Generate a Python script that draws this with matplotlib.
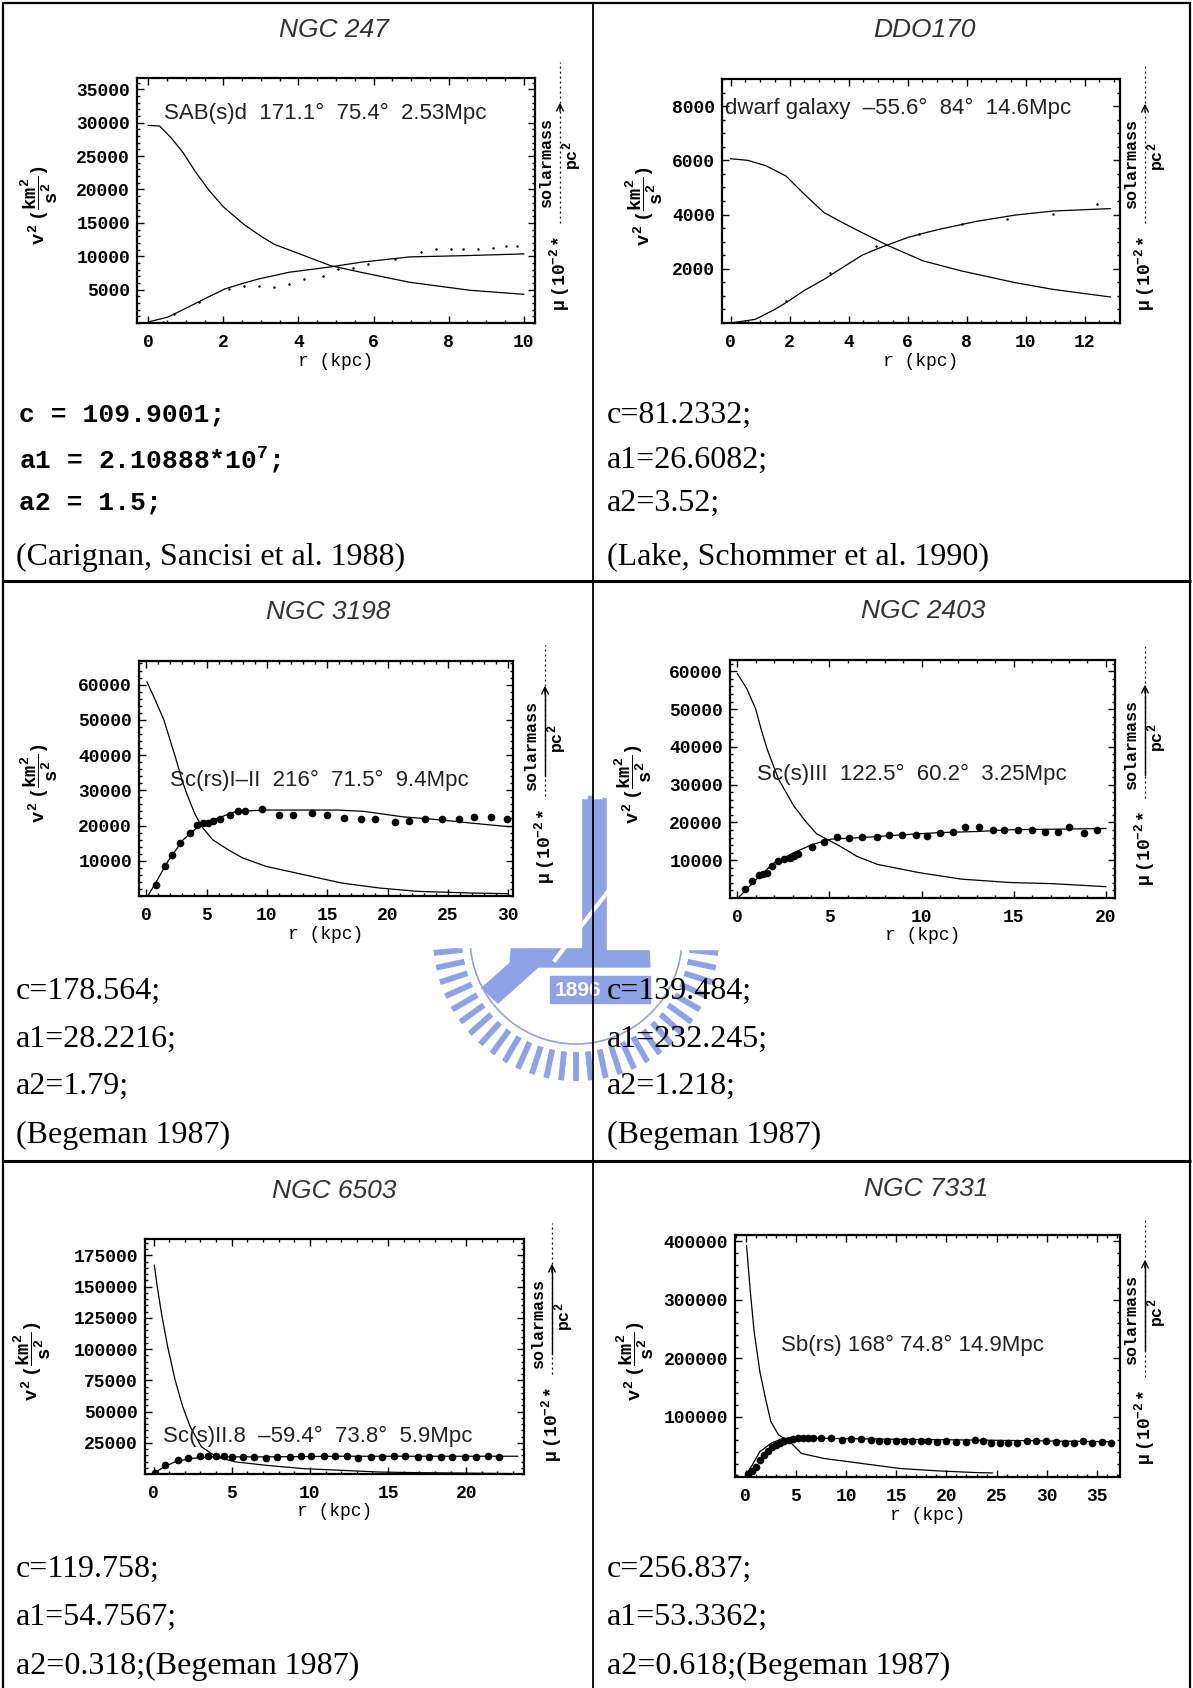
import numpy as np
import matplotlib
matplotlib.use("Agg")
import matplotlib.pyplot as plt
from matplotlib.patches import Circle, Polygon, Rectangle


W, H = 1193, 1688

plt.rcParams["font.family"] = ["Liberation Mono", "DejaVu Sans"]
plt.rcParams["font.weight"] = "bold"
plt.rcParams["mathtext.fontset"] = "custom"
plt.rcParams["mathtext.rm"] = "Liberation Mono:bold"
plt.rcParams["mathtext.it"] = "Liberation Mono:bold"
plt.rcParams["mathtext.bf"] = "Liberation Mono:bold"


# ---- NGC 247 ----
n247_mu_r = [0, 0.3, 0.6, 0.93, 1.25, 1.6, 2.0, 2.54, 3.0, 3.35, 4.15, 4.85, 5.66, 6.96, 8.57, 10]
n247_mu_v = [29600, 29500, 27800, 25500, 22700, 20000, 17400, 14800, 13000, 11800, 10100,
             8600, 7600, 6100, 4900, 4300]
n247_fit_r = [0, 0.53, 1.14, 1.6, 2.04, 2.5, 2.94, 3.75, 4.85, 5.66, 6.96, 8.5, 10]
n247_fit_v = [150, 900, 2600, 3900, 5100, 5900, 6600, 7600, 8400, 9100, 9900, 10100, 10350]
n247_obs_r = [0.1, 0.4, 0.68, 1.34, 2.15, 2.54, 2.94, 3.35, 3.75, 4.15, 4.65, 5.05,
              5.46, 5.86, 6.56, 7.26, 7.67, 8.07, 8.37, 8.77, 9.18, 9.53, 9.83]
n247_obs_v = [50, 100, 1400, 3100, 5100, 5600, 5600, 5400, 5900, 6600, 7100, 8100,
              8200, 8900, 9600, 10600, 11100, 11100, 11100, 11100, 11300, 11600, 11600]

# ---- DDO 170 ----
d170_mu_r = [0, 0.58, 1.2, 1.88, 2.5, 3.17, 3.8, 4.46, 5.37, 6.53, 7.83, 9.64, 10.93, 12.87]
d170_mu_v = [6060, 6000, 5800, 5420, 4750, 4070, 3700, 3330, 2840, 2290, 1920, 1490, 1240, 960]
d170_fit_r = [0, 0.84, 1.5, 1.88, 2.5, 3.17, 3.8, 4.46, 5.0, 5.5, 6.0, 6.5, 7.05, 8.34,
              9.64, 10.93, 12.87]
d170_fit_v = [0, 135, 500, 750, 1200, 1610, 2050, 2500, 2750, 2950, 3150, 3300, 3450,
              3750, 3980, 4130, 4220]
d170_obs_r = [0.58, 1.88, 3.36, 4.92, 6.4, 7.83, 9.38, 10.93, 12.42]
d170_obs_v = [40, 810, 1860, 2840, 3270, 3640, 3830, 4010, 4380]

# ---- NGC 3198 ----
n3198_mu_r = [0.06, 0.7, 1.47, 2.0, 2.41, 3.0, 3.35, 4.0, 4.6, 5.5, 6.8, 8.0, 9.94, 13.07,
              16.2, 19.34, 22.48, 26.87, 30]
n3198_mu_v = [60750, 56000, 49900, 44000, 39500, 32500, 29150, 23500, 19700, 16000, 13100,
              10800, 8400, 6040, 3680, 2260, 1320, 850, 660]
n3198_fit_r = [0.2, 0.85, 1.79, 3.04, 4.3, 5.55, 7.43, 9.94, 13.07, 15.9, 18.1, 21.2, 24.4, 26.9, 30]
n3198_fit_v = [380, 4150, 9800, 15900, 19700, 21600, 24000, 24400, 24400, 24400, 24000,
               22500, 21600, 20700, 19700]
n3198_obs_r = [0.78, 1.54, 2.16, 2.79, 3.6, 4.23, 4.67, 5.08, 5.55, 6.11, 6.96, 7.59, 8.2,
               9.56, 11.0, 12.2, 13.7, 15.0, 16.4, 17.8, 19.0, 20.6, 21.8, 23.1, 24.5,
               25.9, 27.2, 28.6, 29.9]
n3198_obs_v = [3200, 8600, 11700, 15000, 17800, 20200, 20700, 20700, 21400, 21800, 23000,
               24200, 24200, 24600, 23000, 23000, 23500, 23000, 22100, 21800, 21800,
               21100, 21400, 21800, 21800, 21800, 22400, 22400, 21800]

# ---- NGC 2403 ----
n2403_mu_r = [0, 0.5, 0.99, 1.3, 1.61, 2.23, 3.06, 3.7, 4.3, 5.54, 6.5, 7.6, 9.88, 12.15,
              14.8, 17.1, 20]
n2403_mu_v = [59400, 55500, 50100, 44500, 39500, 31500, 24400, 20300, 17000, 13800, 11000,
              8900, 6700, 5000, 4100, 3800, 3000]
n2403_fit_r = [0.06, 0.58, 1.2, 2.02, 3.06, 4.09, 5.12, 6.78, 8.84, 10.9, 13.0, 15.0, 17.1, 20]
n2403_fit_v = [90, 2700, 5800, 9400, 12000, 14200, 15600, 16000, 16700, 17300, 17600,
               18100, 18200, 18400]
n2403_obs_r = [0.43, 0.79, 1.2, 1.4, 1.61, 1.86, 2.19, 2.54, 2.85, 3.1, 3.3, 4.05, 4.71,
               5.39, 6.05, 6.78, 7.56, 8.22, 8.95, 9.67, 10.3, 11.0, 11.7, 12.35, 13.1,
               13.9, 14.5, 15.25, 15.97, 16.7, 17.4, 18.0, 18.8, 19.5]
n2403_obs_v = [2500, 4500, 6000, 6300, 6700, 8500, 9800, 10400, 10700, 11200, 11600,
               13400, 14700, 16200, 16000, 16200, 16200, 16600, 16600, 16600, 16500,
               17200, 17600, 18700, 18700, 18100, 18100, 18100, 18100, 17500, 17500,
               18700, 17300, 18100]

# ---- NGC 6503 ----
n6503_mu_r = [0.05, 0.22, 0.53, 0.89, 1.37, 1.86, 2.34, 3.06, 4.02, 5.23, 7.16, 9.57,
              11.98, 14.4, 16.8, 19.2, 23.3]
n6503_mu_v = [167000, 151000, 126600, 102400, 75500, 54000, 37900, 21800, 13700, 9700,
              7000, 4300, 2960, 1600, 1080, 800, 270]
n6503_fit_r = [0, 0.65, 1.37, 2.34, 3.78, 7.16, 11.98, 16.8, 23.3]
n6503_fit_v = [270, 5600, 9700, 12400, 13700, 13700, 14200, 14200, 14200]
n6503_obs_r = [0.1, 0.72, 1.54, 2.17, 2.94, 3.49, 4.02, 4.5, 4.99, 5.7, 6.4, 7.2, 7.9,
               8.7, 9.4, 10.1, 10.9, 11.6, 12.4, 13.1, 13.9, 14.6, 15.4, 16.1, 16.9,
               17.6, 18.4, 19.1, 19.9, 20.6, 21.4, 22.1]
n6503_obs_v = [1100, 7000, 11600, 12900, 14500, 14500, 14500, 14500, 13700, 13500, 13700,
               13200, 13500, 13800, 14200, 14500, 14700, 14200, 14300, 13200, 13800,
               14000, 14800, 14200, 13500, 13500, 13800, 13300, 13500, 13700, 14500, 13300]

# ---- NGC 7331 ----
n7331_mu_r = [0.08, 0.45, 0.83, 1.4, 1.96, 2.5, 3.28, 4.4, 5.55, 7.8, 11.6, 15.4, 19.1, 22.9, 24.6]
n7331_mu_v = [393000, 315500, 246700, 177900, 132000, 91800, 68800, 57400, 37300, 28700,
              20100, 11500, 7500, 4600, 4000]
n7331_fit_r = [0, 0.64, 1.4, 2.5, 3.66, 4.8, 7.8, 15.4, 22.9, 36.1]
n7331_fit_v = [0, 17200, 40200, 54500, 63100, 63100, 63100, 61400, 60200, 57400]
n7331_obs_r = [0.26, 0.64, 1.0, 1.4, 1.8, 2.2, 2.6, 3.0, 3.4, 3.8, 4.3, 4.7, 5.2, 5.7,
               6.2, 6.7, 7.5, 8.5, 9.6, 10.5, 11.5, 12.5, 13.3, 14.1, 15.0, 15.8, 16.6,
               17.5, 18.2, 19.1, 20.0, 21.0, 22.0, 22.8, 23.6, 24.4, 25.3, 26.1, 27.0,
               28.0, 28.9, 29.9, 30.9, 31.8, 32.7, 33.6, 34.5, 35.5, 36.4]
n7331_obs_v = [2900, 6900, 14000, 26000, 35000, 42000, 48000, 52000, 56000, 58000, 60000,
               62000, 63000, 64000, 64000, 64000, 63000, 63000, 61000, 62000, 62000,
               61000, 59000, 59000, 59000, 58000, 58000, 58000, 58000, 57000, 58000,
               57000, 57000, 60000, 58000, 56000, 55000, 56000, 56000, 59000, 59000,
               58000, 57000, 55000, 56000, 58000, 56000, 57000, 55000]

titles = ["NGC 247", "DDO170", "NGC 3198", "NGC 2403", "NGC 6503", "NGC 7331"]
notes = ["SAB(s)d  171.1\u00b0  75.4\u00b0  2.53Mpc",
         "dwarf galaxy  \u201355.6\u00b0  84\u00b0  14.6Mpc",
         "Sc(rs)I\u2013II  216\u00b0  71.5\u00b0  9.4Mpc",
         "Sc(s)III  122.5\u00b0  60.2\u00b0  3.25Mpc",
         "Sc(s)II.8  \u201359.4\u00b0  73.8\u00b0  5.9Mpc",
         "Sb(rs) 168\u00b0 74.8\u00b0 14.9Mpc"]
x_ticks = [[0, 2, 4, 6, 8, 10], [0, 2, 4, 6, 8, 10, 12], [0, 5, 10, 15, 20, 25, 30],
           [0, 5, 10, 15, 20], [0, 5, 10, 15, 20], [0, 5, 10, 15, 20, 25, 30, 35]]
y_ticks = [[5000, 10000, 15000, 20000, 25000, 30000, 35000],
           [2000, 4000, 6000, 8000],
           [10000, 20000, 30000, 40000, 50000, 60000],
           [10000, 20000, 30000, 40000, 50000, 60000],
           [25000, 50000, 75000, 100000, 125000, 150000, 175000],
           [100000, 200000, 300000, 400000]]

param_left = [["c = 109.9001;", "a1 = 2.10888*10$^7$;", "a2 = 1.5;",
               "(Carignan, Sancisi et al. 1988)"],
              ["c=178.564;", "a1=28.2216;", "a2=1.79;", "(Begeman 1987)"],
              ["c=119.758;", "a1=54.7567;", "a2=0.318;(Begeman 1987)"]]
param_right = [["c=81.2332;", "a1=26.6082;", "a2=3.52;", "(Lake, Schommer et al. 1990)"],
               ["c=139.484;", "a1=232.245;", "a2=1.218;", "(Begeman 1987)"],
               ["c=256.837;", "a1=53.3362;", "a2=0.618;(Begeman 1987)"]]

series = [
    (n247_mu_r, n247_mu_v, n247_fit_r, n247_fit_v, n247_obs_r, n247_obs_v),
    (d170_mu_r, d170_mu_v, d170_fit_r, d170_fit_v, d170_obs_r, d170_obs_v),
    (n3198_mu_r, n3198_mu_v, n3198_fit_r, n3198_fit_v, n3198_obs_r, n3198_obs_v),
    (n2403_mu_r, n2403_mu_v, n2403_fit_r, n2403_fit_v, n2403_obs_r, n2403_obs_v),
    (n6503_mu_r, n6503_mu_v, n6503_fit_r, n6503_fit_v, n6503_obs_r, n6503_obs_v),
    (n7331_mu_r, n7331_mu_v, n7331_fit_r, n7331_fit_v, n7331_obs_r, n7331_obs_v),
]

# layout in pixels (left, top, right, bottom)
boxes = [(137, 78, 535, 323), (722, 79, 1120, 323),
         (139, 661, 513, 896), (730, 660, 1115, 898),
         (145, 1239, 524, 1474), (735, 1235, 1120, 1477)]
xlims = [(-0.3, 10.3), (-0.29, 13.2), (-0.6, 30.4), (-0.4, 20.5), (-0.55, 23.7), (-1.07, 37.3)]
ylims = [(0, 36700), (0, 9000), (0, 66700), (0, 63000), (0, 188000), (-3000, 411000)]
title_pos = [(334, 30), (924, 30), (328, 612), (923, 611), (334, 1191), (926, 1189)]
note_pos = [(164, 113), (725, 108), (170, 780), (757, 774), (163, 1436), (781, 1345)]
left_off = [98, 78, 100, 97, 113, 100]
right_off = [25, 25, 32, 30, 28, 25]


fig = plt.figure(figsize=(W / 100, H / 100), dpi=100)

bg = fig.add_axes([0, 0, 1, 1], zorder=0)
bg.set_xlim(0, W)
bg.set_ylim(H, 0)
bg.axis("off")


def put(x, y, s, **kw):
    fig.text(x / W, 1 - y / H, s, **kw)


# watermark
wm = "#8fa2e5"
cx, cy = 576, 938
for ang in np.deg2rad(np.arange(0, 360, 6)):
    bg.plot([cx + 114 * np.cos(ang), cx + 143 * np.cos(ang)],
            [cy + 114 * np.sin(ang), cy + 143 * np.sin(ang)],
            color=wm, lw=4.2, solid_capstyle="butt", zorder=0.5)
bg.add_patch(Circle((cx, cy), 106, fill=False, ec=wm, lw=1.2, zorder=0.5))
bg.add_patch(Polygon([(522, 800), (640, 800), (650, 967), (510, 967)], color=wm, zorder=0.5))
bg.plot([555, 640], [960, 850], color="white", lw=3, zorder=0.6)
bg.add_patch(Polygon([(482, 988), (498, 1003), (568, 940), (552, 926)], color=wm, zorder=0.5))
bg.add_patch(Rectangle((550, 976), 100, 27, color=wm, zorder=0.6))
bg.text(578, 990, "1896", color="white", fontsize=15, ha="center", va="center",
        family="Liberation Sans", weight="bold", zorder=0.7)

# white plot images covering the watermark
bg.add_patch(Rectangle((4, 583), 577, 364, color="white", zorder=1))
bg.add_patch(Rectangle((607, 583), 582, 366, color="white", zorder=1))

# table rules
line_kw = dict(color="black", solid_capstyle="butt", zorder=4)
bg.plot([3, 3], [2, H], lw=1.6, **line_kw)
bg.plot([1190, 1190], [2, H], lw=1.6, **line_kw)
bg.plot([2, 1191], [3, 3], lw=1.6, **line_kw)
bg.plot([593, 593], [2, H], lw=1.3, **line_kw)
bg.plot([2, 1191], [581, 581], lw=2.2, **line_kw)
bg.plot([2, 1191], [1161, 1161], lw=2.2, **line_kw)


for i, (box, data) in enumerate(zip(boxes, series)):
    L, T, R, B = box
    mu_r, mu_v, fit_r, fit_v, obs_r, obs_v = data
    ax = fig.add_axes([L / W, 1 - B / H, (R - L) / W, (B - T) / H], zorder=2)

    ax.plot(mu_r, mu_v, color="black", lw=0.9)
    ax.plot(fit_r, fit_v, color="black", lw=0.9)
    if i < 2:
        ax.plot(obs_r, obs_v, "o", color="black", ms=1.8, mew=0)
    else:
        ax.plot(obs_r, obs_v, "o", color="black", ms=5.5, mew=0)

    ax.set_xlim(*xlims[i])
    ax.set_ylim(*ylims[i])
    ax.set_xticks(x_ticks[i])
    ax.set_xticklabels([str(t) for t in x_ticks[i]])
    ax.set_yticks(y_ticks[i])
    ax.set_yticklabels([str(t) for t in y_ticks[i]])
    ax.minorticks_on()
    ax.tick_params(which="both", direction="in", top=True, right=True, width=1,
                   labelsize=13, pad=5)
    ax.tick_params(axis="x", which="major", pad=8)
    ax.tick_params(which="major", length=5)
    ax.tick_params(which="minor", length=2.5)
    for sp in ax.spines.values():
        sp.set_linewidth(1.6)
    ax.set_xlabel("r (kpc)", fontsize=13, labelpad=1)

    put(*title_pos[i], titles[i], ha="center", va="center", fontsize=19,
        family="Liberation Sans", style="italic", weight="normal", color="#333333")
    put(*note_pos[i], notes[i], ha="left", va="center", fontsize=16,
        family="Liberation Sans", weight="normal", color="#222222", zorder=5)

    # left axis label
    put(L - left_off[i], (T + B) / 2 + 5, r"$v^2\ (\dfrac{km^2}{s^2})$", rotation=90,
        ha="center", va="center", fontsize=13.5)

    # right axis label with arrow
    xr = R + right_off[i]
    put(xr, B - 12, r"$\mu\ (10^{-2}*$", rotation=90, ha="center", va="bottom", fontsize=13)
    bg.plot([xr, xr], [B - 100, T - 16], color="black", lw=0.9,
            ls=(0, (1.5, 2.5)), zorder=3)
    if i >= 2:
        bg.plot([xr, xr], [T + 28, T + 115], color="black", lw=1, zorder=3)
    bg.annotate("", xy=(xr, T + 22), xytext=(xr, T + 36),
                arrowprops=dict(arrowstyle="->", lw=1, color="black", mutation_scale=12),
                zorder=3)
    put(xr - 14, T + 84, "solarmass", rotation=90, ha="center", va="center", fontsize=12)
    put(xr + 12, T + 78, r"pc$^2$", rotation=90, ha="center", va="center", fontsize=12)


row_y = [[415, 460, 503, 557], [991, 1039, 1086, 1135], [1569, 1617, 1666]]
for r in range(3):
    for k, s in enumerate(param_left[r]):
        if r == 0 and k < 3:
            put(19, row_y[r][k], s, ha="left", va="center", fontsize=19, zorder=5)
        else:
            put(16, row_y[r][k], s, ha="left", va="center", fontsize=23,
                family="Liberation Serif", weight="normal", zorder=5)
    for k, s in enumerate(param_right[r]):
        put(607, row_y[r][k], s, ha="left", va="center", fontsize=23,
            family="Liberation Serif", weight="normal", zorder=5)

fig.savefig("out.png", dpi=100)
